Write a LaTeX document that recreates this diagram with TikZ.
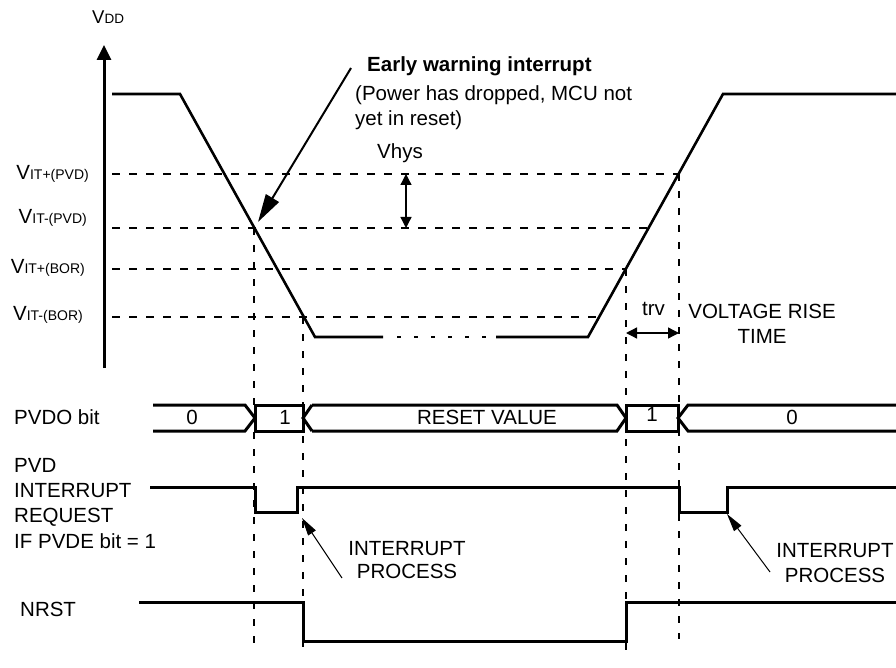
\documentclass[tikz,border=0pt]{standalone}
\usepackage{fontspec}
\setmainfont{Liberation Sans}
\usetikzlibrary{arrows.meta,positioning}

\newcommand{\smallsub}[1]{{\fontsize{14}{14}\selectfont #1}}

\tikzset{
  lbl/.style = {inner sep=0pt, font=\fontsize{20.5}{25}\selectfont, text height=15pt, text depth=4pt},
  vlbl/.style = {inner sep=0pt, font=\fontsize{20.5}{25}\selectfont, anchor=base east},
  supply/.style = {line width=2.6pt},
  wave/.style = {line width=3pt},
  thresh/.style = {line width=1.8pt, dash pattern=on 8pt off 9pt},
  cursor/.style = {line width=1.8pt, dash pattern=on 7pt off 10pt},
  dim/.style = {line width=1.3pt, {Triangle[length=11pt,width=11pt]}-{Triangle[length=11pt,width=11pt]}},
  pointer/.style = {line width=1pt, -{Triangle[length=18pt,width=9pt]}},
}

\begin{document}
\begin{tikzpicture}[x=1pt, y=-1pt]
        \useasboundingbox (0,0) rectangle (896,668) ; %
        %
        \coordinate (ax_lo) at (104,368) ; %
        \coordinate (ax_hi) at (104,45) ; %
        \draw[line width=3pt, -{Triangle[length=15pt,width=14pt]}] (ax_lo) -- (ax_hi) ; %
        \node[anchor=base west, inner sep=0pt] (vdd) at (92,24) {\fontsize{18.5}{18}\selectfont V\fontsize{13.5}{13}\selectfont DD} ; %
        %
        \node[vlbl] (vit_pvd_p) at (89,180) {V\smallsub{IT+(PVD)}} ; %
        \node[vlbl] (vit_pvd_m) at (87,224) {V\smallsub{IT-(PVD)}} ; %
        \node[vlbl] (vit_bor_p) at (85,273) {V\smallsub{IT+(BOR)}} ; %
        \node[vlbl] (vit_bor_m) at (83,320) {V\smallsub{IT-(BOR)}} ; %
        %
        \draw[thresh] (112,174) -- (679,174) ; %
        \draw[thresh] (112,228) -- (649,228) ; %
        \draw[thresh] (112,269) -- (626,269) ; %
        \draw[thresh] (112,317) -- (599,317) ; %
        %
        \draw[supply] (112,94) -- (180,94) -- (315,337) -- (383,337) ; %
        \draw[line width=2pt, dash pattern=on 4pt off 13pt] (397,337) -- (487,337) ; %
        \draw[supply] (496,337) -- (588,337) -- (723,94) -- (896,94) ; %
        %
        \draw[cursor] (254,228) -- (254,646) ; %
        \draw[cursor] (303,317) -- (303,653) ; %
        \draw[cursor] (626,269) -- (626,653) ; %
        \draw[cursor] (679,174) -- (679,639) ; %
        %
        \node[lbl, anchor=base west, font=\bfseries\fontsize{20.5}{25}\selectfont] (warn_a) at (367,72) {Early warning interrupt} ; %
        \node[lbl, below = 9pt of warn_a.south west, anchor=north west, xshift=-12pt] (warn_b) {(Power has dropped, MCU not} ; %
        \node[lbl, below = 6pt of warn_b.south west, anchor=north west] (warn_c) {yet in reset)} ; %
        \coordinate (warn_tail) at (351,68) ; %
        \coordinate (warn_tip) at (258,222) ; %
        \draw[line width=2pt, -{Triangle[length=28pt,width=15pt]}] (warn_tail) -- (warn_tip) ; %
        %
        \node[lbl, anchor=base west] (vhys) at (377,159) {Vhys} ; %
        \coordinate (hys_a) at (406,174) ; %
        \coordinate (hys_b) at (406,228) ; %
        \draw[dim] (hys_a) -- (hys_b) ; %
        %
        \node[lbl, anchor=base west] (trv) at (642,315) {trv} ; %
        \coordinate (trv_a) at (626,333) ; %
        \coordinate (trv_b) at (679,333) ; %
        \draw[dim] (trv_a) -- (trv_b) ; %
        \node[lbl, anchor=base] (rise_a) at (762,318) {VOLTAGE RISE} ; %
        \node[lbl, below = 6pt of rise_a] (rise_b) {TIME} ; %
        %
        \node[lbl, anchor=base west] (pvdo) at (14,424) {PVDO bit} ; %
        \draw[wave] (153,405) -- (245,405) -- (255,418) -- (245,431) -- (153,431) ; %
        \draw[wave] (255,405) rectangle (303,431) ; %
        \draw[wave] (312,405) -- (303,418) -- (312,431) ; %
        \draw[wave] (312,405) -- (617,405) -- (626,418) -- (617,431) -- (312,431) ; %
        \draw[wave] (626,405) rectangle (678,431) ; %
        \draw[wave] (896,405) -- (688,405) -- (678,418) -- (688,431) -- (896,431) ; %
        \node[lbl, anchor=base] (bit_0a) at (192,424) {0} ; %
        \node[lbl, anchor=base] (bit_1a) at (285,424) {1} ; %
        \node[lbl, anchor=base] (bit_rst) at (487,424) {RESET VALUE} ; %
        \node[lbl, anchor=base] (bit_1b) at (652,421) {1} ; %
        \node[lbl, anchor=base] (bit_0b) at (792,424) {0} ; %
        %
        \node[lbl, anchor=base west] (pvd_a) at (14,472) {PVD} ; %
        \node[lbl, below = 6pt of pvd_a.south west, anchor=north west] (pvd_b) {INTERRUPT} ; %
        \node[lbl, below = 6pt of pvd_b.south west, anchor=north west] (pvd_c) {REQUEST} ; %
        \node[lbl, below = 6pt of pvd_c.south west, anchor=north west] (pvd_d) {IF PVDE bit = 1} ; %
        \draw[wave] (150,487) -- (255,487) -- (255,512) -- (297,512) -- (297,487) -- (679,487) -- (679,512) -- (727,512) -- (727,487) -- (896,487) ; %
        %
        \node[lbl, anchor=base] (ip_la) at (407,555) {INTERRUPT} ; %
        \node[lbl, below = 4pt of ip_la] (ip_lb) {PROCESS} ; %
        \coordinate (ip_l_tail) at (342,578) ; %
        \coordinate (ip_l_tip) at (302,518) ; %
        \draw[pointer] (ip_l_tail) -- (ip_l_tip) ; %
        \node[lbl, anchor=base] (ip_ra) at (835,557) {INTERRUPT} ; %
        \node[lbl, below = 6pt of ip_ra] (ip_rb) {PROCESS} ; %
        \coordinate (ip_r_tail) at (770,572) ; %
        \coordinate (ip_r_tip) at (727,514) ; %
        \draw[pointer] (ip_r_tail) -- (ip_r_tip) ; %
        %
        \node[lbl, anchor=base west] (nrst) at (20,616) {NRST} ; %
        \draw[wave] (139,602) -- (303,602) -- (303,641) -- (626,641) -- (626,602) -- (896,602) ; %
\end{tikzpicture}
\end{document}
